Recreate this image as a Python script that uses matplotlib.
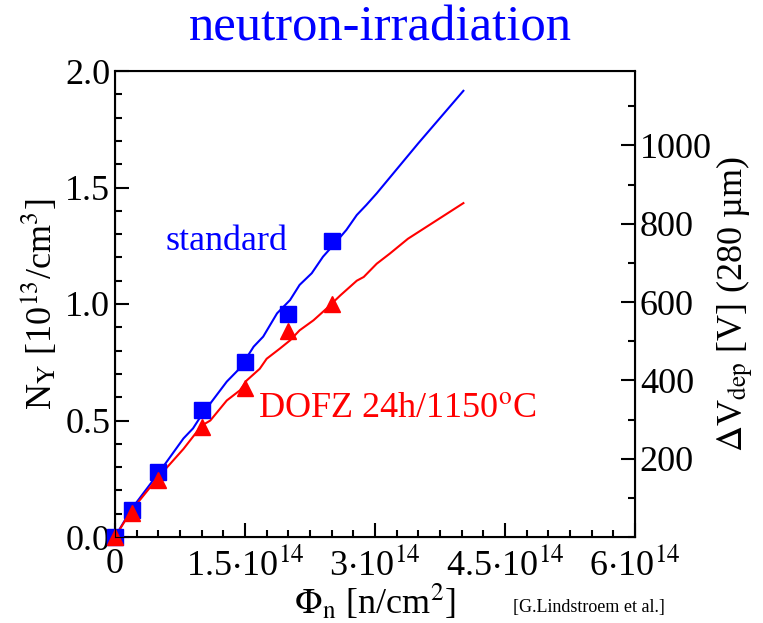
import matplotlib
matplotlib.use('Agg')
import matplotlib.pyplot as plt
import numpy as np
from matplotlib.ticker import MultipleLocator, FixedLocator

plt.rcParams['font.family'] = 'Liberation Serif'
plt.rcParams['mathtext.fontset'] = 'stix'

# measured points (fluence in 1e14 n/cm2, N_Y in 1e13 /cm3)
std_x = [0, 0.2, 0.5, 1.0, 1.5, 2.0, 2.5]
std_y = [0.0, 0.116, 0.28, 0.545, 0.75, 0.957, 1.27]
dofz_x = [0, 0.2, 0.5, 1.0, 1.5, 2.0, 2.5]
dofz_y = [0.0, 0.105, 0.245, 0.47, 0.64, 0.885, 1.0]

# model curves
std_fit_x = [0, 0.19, 0.5, 0.79, 0.9, 1.0, 1.29, 1.44, 1.6, 1.71, 1.87, 2.02, 2.13,
             2.27, 2.4, 2.52, 2.67, 2.79, 2.9, 3.02, 3.5, 4.02]
std_fit_y = [0.0, 0.12, 0.273, 0.423, 0.466, 0.524, 0.667, 0.724, 0.817, 0.86, 0.96,
             1.017, 1.082, 1.132, 1.203, 1.253, 1.318, 1.382, 1.425, 1.475, 1.69, 1.915]
dofz_fit_x = [0, 0.19, 0.5, 0.79, 1.0, 1.1, 1.29, 1.44, 1.52, 1.67, 1.75, 1.9, 2.02,
              2.13, 2.29, 2.44, 2.6, 2.79, 2.87, 3.02, 3.17, 3.38, 4.02]
dofz_fit_y = [0.0, 0.114, 0.257, 0.378, 0.478, 0.5, 0.586, 0.629, 0.672, 0.722, 0.765,
              0.808, 0.844, 0.887, 0.93, 0.98, 1.037, 1.1, 1.116, 1.173, 1.216, 1.28, 1.433]

v_per_n = 595.0  # V per 1e13/cm3 for 280 um

fig = plt.figure(figsize=(7.63, 6.23), dpi=100)
ax = fig.add_axes([115/763, 1 - 537/623, 520/763, 466/623])

ax.plot(std_fit_x, std_fit_y, color='blue', lw=1.5)
ax.plot(dofz_fit_x, dofz_fit_y, color='red', lw=1.5)
ax.plot(std_x, std_y, 's', color='blue', ms=11, clip_on=False, zorder=5)
ax.plot(dofz_x, dofz_y, '^', color='red', ms=11, clip_on=False, zorder=5)

ax.set_xlim(0, 6)
ax.set_ylim(0, 2.0)
ax.set_xticks([0, 1.5, 3, 4.5, 6])
ax.set_xticklabels(['0', r'1.5$\cdot$10$^{14}$', r'3$\cdot$10$^{14}$',
                    r'4.5$\cdot$10$^{14}$', r'6$\cdot$10$^{14}$'])
ax.xaxis.set_minor_locator(MultipleLocator(0.25))
ax.yaxis.set_major_locator(MultipleLocator(0.5))
ax.yaxis.set_minor_locator(MultipleLocator(0.1))
ax.yaxis.set_major_formatter(plt.FormatStrFormatter('%.1f'))
ax.tick_params(which='both', direction='in', top=False, right=False, labelsize=26, width=1.5)
ax.tick_params(which='major', length=10)
ax.tick_params(which='minor', length=5)
ax.tick_params(axis='x', pad=8)
for s in ax.spines.values():
    s.set_linewidth(1.5)

ax.set_xlabel(r'$\Phi_{\rm n}$ [n/cm$^2$]', fontsize=26, labelpad=0)
ax.set_ylabel(r'N$_{\rm Y}$ [10$^{13}$/cm$^3$]', fontsize=26, labelpad=4)

ax2 = ax.twinx()
ax2.set_ylim(0, 2.0 * v_per_n)
ax2.yaxis.set_major_locator(FixedLocator([200, 400, 600, 800, 1000]))
ax2.yaxis.set_minor_locator(FixedLocator([0, 100, 300, 500, 700, 900, 1100]))
ax2.tick_params(which='both', direction='in', labelsize=26, width=1.5)
ax2.tick_params(which='major', length=10)
ax2.tick_params(which='minor', length=5)
ax2.set_ylabel('$\\Delta$V$_{\\rm dep}$ [V] (280 µm)', fontsize=26, labelpad=2)

ax.text(0.58, 1.27, 'standard', color='blue', fontsize=26, va='center')
ax.text(1.65, 0.55, 'DOFZ 24h/1150$^{\\rm o}$C', color='red', fontsize=26, va='center')

fig.text(0.499, 0.955, 'neutron-irradiation', color='blue', fontsize=36.5, ha='center', va='center')
fig.text(0.772, 0.025, '[G.Lindstroem et al.]', fontsize=13, ha='center', va='center')

fig.savefig('out.png', dpi=100)
